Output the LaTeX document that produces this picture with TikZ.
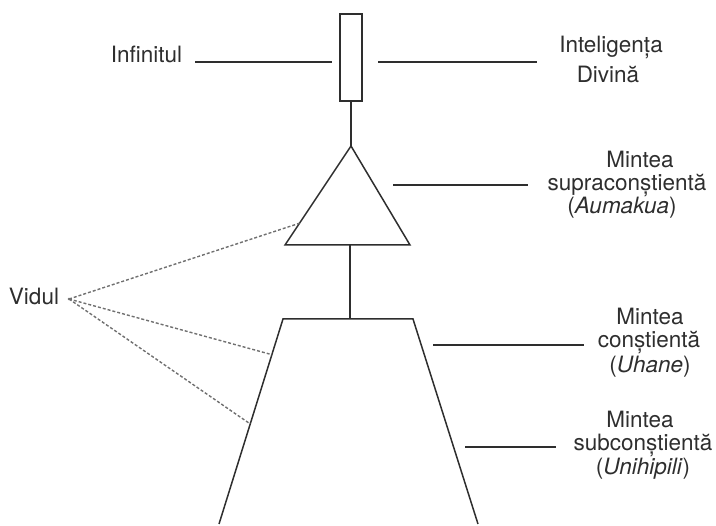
\documentclass[tikz,border=0pt]{standalone}
\usepackage{fontspec}
\setmainfont{TeX Gyre Heros}
\usetikzlibrary{calc}
\definecolor{ink}{HTML}{2E2E2E}
\definecolor{dashgray}{HTML}{707070}
\tikzset{
  lbl/.style={anchor=base, inner sep=0pt, text=ink, font=\fontsize{22.5}{24}\selectfont},
  solidline/.style={draw=ink, line width=1.5pt},
  dashline/.style={draw=dashgray, line width=1.4pt, dash pattern=on 3pt off 2pt},
}
\begin{document}
\begin{tikzpicture}[x=1pt,y=-1pt]
\useasboundingbox (0,0) rectangle (716,526);
% rectangle
\node[solidline, minimum width=22pt, minimum height=87pt, inner sep=0pt] (rect) at (351,57.5) {};
% triangle
\coordinate (apex) at (351,146);
\coordinate (tl) at (285,245);
\coordinate (tr) at (410,245);
\coordinate (tb) at (350,245);
\draw[solidline, line join=miter] (apex) -- (tr) -- (tl) -- cycle;
% trapezoid
\coordinate (ztl) at (283,319);
\coordinate (ztr) at (413,319);
\coordinate (zbl) at (219,524);
\coordinate (zbr) at (478,524);
\coordinate (zt) at (350,319);
\draw[solidline] (zbl) -- (ztl) -- (ztr) -- (zbr);
% vertical connectors
\draw[solidline] (rect.south) -- (apex);
\draw[solidline] (tb) -- (zt);
% labels
\node[lbl] (inf) at (146.5,63) {Infinitul};
\node[lbl] (int1) at (611,53) {Inteligența};
\node[lbl] (int2) at (608,83) {Divină};
\node[lbl] (s1) at (640,168) {Mintea};
\node[lbl] (s2) at (627,191) {supraconștientă};
\node[lbl] (s3) at (622,214) {(\textit{Aumakua})};
\node[lbl] (c1) at (650,325) {Mintea};
\node[lbl] (c2) at (649,348) {conștientă};
\node[lbl] (c3) at (650,373) {(\textit{Uhane})};
\node[lbl] (u1) at (640,428) {Mintea};
\node[lbl] (u2) at (643,451) {subconștientă};
\node[lbl] (u3) at (643,475) {(\textit{Unihipili})};
\node[lbl] (vid) at (34,305) {Vidul};
% leader lines
\coordinate (infE) at (195,62);
\coordinate (infR) at (332,62);
\draw[solidline] (infE) -- (infR);
\coordinate (intL) at (378,62);
\coordinate (intR) at (537,62);
\draw[solidline] (intL) -- (intR);
\coordinate (supL) at (393,185);
\coordinate (supR) at (528,185);
\draw[solidline] (supL) -- (supR);
\coordinate (conL) at (433,345);
\coordinate (conR) at (584,345);
\draw[solidline] (conL) -- (conR);
\coordinate (subL) at (465,447);
\coordinate (subR) at (556,447);
\draw[solidline] (subL) -- (subR);
% void dashed lines
\coordinate (vdot) at (69,299);
\fill[dashgray] (vdot) circle (1.4pt);
\draw[dashline] (vdot) -- ($(apex)!0.78!(tl)$);
\draw[dashline] (vdot) -- ($(ztl)!0.174!(zbl)$);
\draw[dashline] (vdot) -- ($(ztl)!0.512!(zbl)$);
\end{tikzpicture}
\end{document}
